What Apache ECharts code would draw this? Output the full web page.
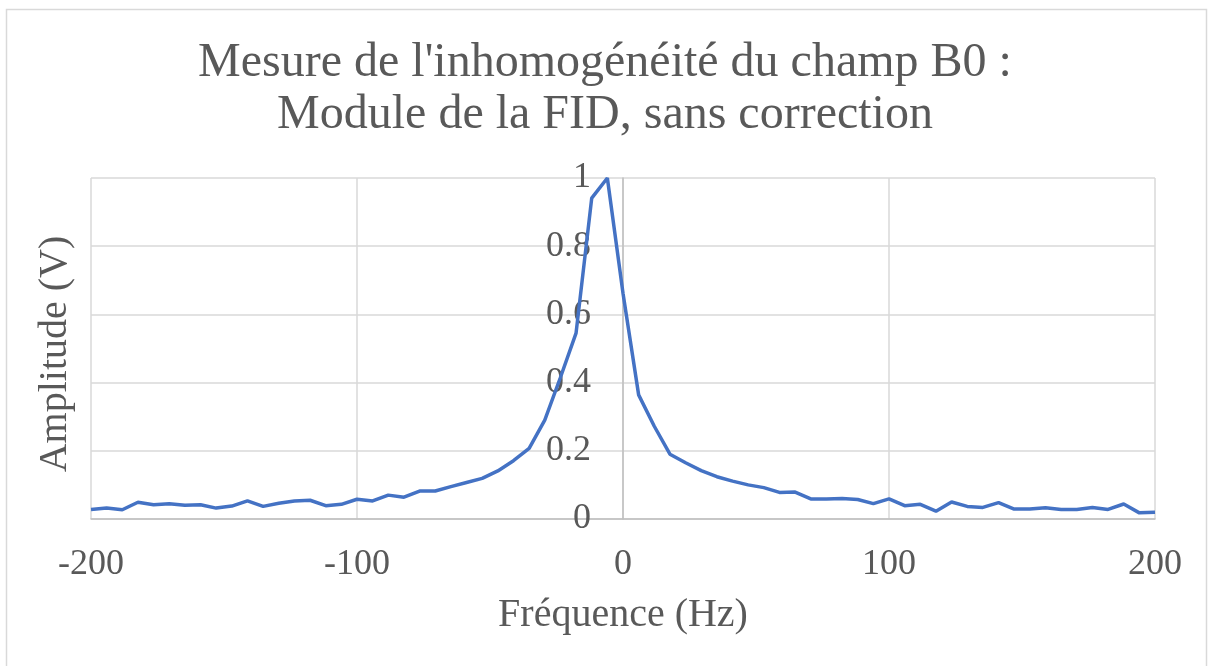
<!DOCTYPE html>
<html>
<head>
<meta charset="utf-8">
<script src="https://cdn.jsdelivr.net/npm/echarts@6/dist/echarts.min.js"></script>
<style>
  html, body { margin: 0; padding: 0; background: #fff; }
  #main { width: 1210px; height: 666px; }
</style>
</head>
<body>
<div id="main"></div>
<script>
// fréquences (Hz)
const freq = [
  -200, -194.12, -188.24, -182.35, -176.47, -170.59, -164.71, -158.82, -152.94, -147.06,
  -141.18, -135.29, -129.41, -123.53, -117.65, -111.76, -105.88, -100, -94.12, -88.24,
  -82.35, -76.47, -70.59, -64.71, -58.82, -52.94, -47.06, -41.18, -35.29, -29.41,
  -23.53, -17.65, -11.76, -5.88, 0, 5.88, 11.76, 17.65, 23.53, 29.41,
  35.29, 41.18, 47.06, 52.94, 58.82, 64.71, 70.59, 76.47, 82.35, 88.24,
  94.12, 100, 105.88, 111.76, 117.65, 123.53, 129.41, 135.29, 141.18, 147.06,
  152.94, 158.82, 164.71, 170.59, 176.47, 182.35, 188.24, 194.12, 200
];
// module de la FID (V)
const amplitude = [
  0.028, 0.032, 0.027, 0.049, 0.042, 0.045, 0.040, 0.042, 0.032, 0.038,
  0.053, 0.037, 0.046, 0.053, 0.055, 0.039, 0.043, 0.058, 0.053, 0.070,
  0.064, 0.082, 0.082, 0.095, 0.107, 0.119, 0.141, 0.171, 0.207, 0.290,
  0.415, 0.545, 0.941, 1.000, 0.662, 0.364, 0.272, 0.190, 0.165, 0.142,
  0.124, 0.111, 0.100, 0.092, 0.078, 0.079, 0.059, 0.059, 0.060, 0.057,
  0.045, 0.059, 0.039, 0.043, 0.023, 0.050, 0.037, 0.034, 0.048, 0.029,
  0.029, 0.033, 0.028, 0.028, 0.034, 0.028, 0.044, 0.018, 0.020
];
const titleText = "Mesure de l'inhomogénéité du champ B0 :\nModule de la FID, sans correction";
const xName = 'Fréquence (Hz)';
const yName = 'Amplitude (V)';

const serif = '"Liberation Serif", "Times New Roman", serif';
const grey = '#595959';

const chart = echarts.init(document.getElementById('main'));
const option = {
  backgroundColor: '#fff',
  animation: false,
  title: {
    text: titleText,
    left: 'center',
    top: 32,
    textStyle: { fontFamily: serif, fontSize: 48, fontWeight: 'normal', color: grey, lineHeight: 52 }
  },
  grid: { left: 91, right: 55, top: 178, bottom: 147, containLabel: false },
  xAxis: {
    type: 'value',
    min: -200,
    max: 200,
    interval: 100,
    name: xName,
    nameLocation: 'middle',
    nameGap: 76,
    nameTextStyle: { fontFamily: serif, fontSize: 40, color: grey },
    axisLine: { show: true, lineStyle: { color: '#bfbfbf', width: 1.5 } },
    axisTick: { show: false },
    axisLabel: { fontFamily: serif, fontSize: 36, color: grey, margin: 28 },
    splitLine: { show: true, lineStyle: { color: '#d9d9d9', width: 1.5 } }
  },
  yAxis: {
    type: 'value',
    min: 0,
    max: 1,
    interval: 0.2,
    position: 'left',
    offset: -532, // axe vertical placé sur f = 0
    axisLine: { show: true, onZero: false, lineStyle: { color: '#bfbfbf', width: 1.5 } },
    axisTick: { show: false },
    axisLabel: { fontFamily: serif, fontSize: 36, color: grey, margin: 32 },
    splitLine: { show: true, lineStyle: { color: '#d9d9d9', width: 1.5 } }
  },
  graphic: [
    {
      type: 'rect',
      shape: { x: 6.5, y: 9.5, width: 1200, height: 670 },
      style: { fill: null, stroke: '#d9d9d9', lineWidth: 1.5 },
      silent: true
    },
    {
      type: 'text',
      x: 55,
      y: 354,
      rotation: Math.PI / 2,
      style: {
        text: yName,
        fontFamily: serif,
        fontSize: 40,
        fill: grey,
        textAlign: 'center',
        textVerticalAlign: 'middle'
      }
    }
  ],
  series: [
    {
      type: 'line',
      data: freq.map((f, i) => [f, amplitude[i]]),
      showSymbol: false,
      z: 3,
      lineStyle: { color: '#4472C4', width: 3.5 },
      itemStyle: { color: '#4472C4' }
    }
  ]
};
chart.setOption(option);
</script>
</body>
</html>
